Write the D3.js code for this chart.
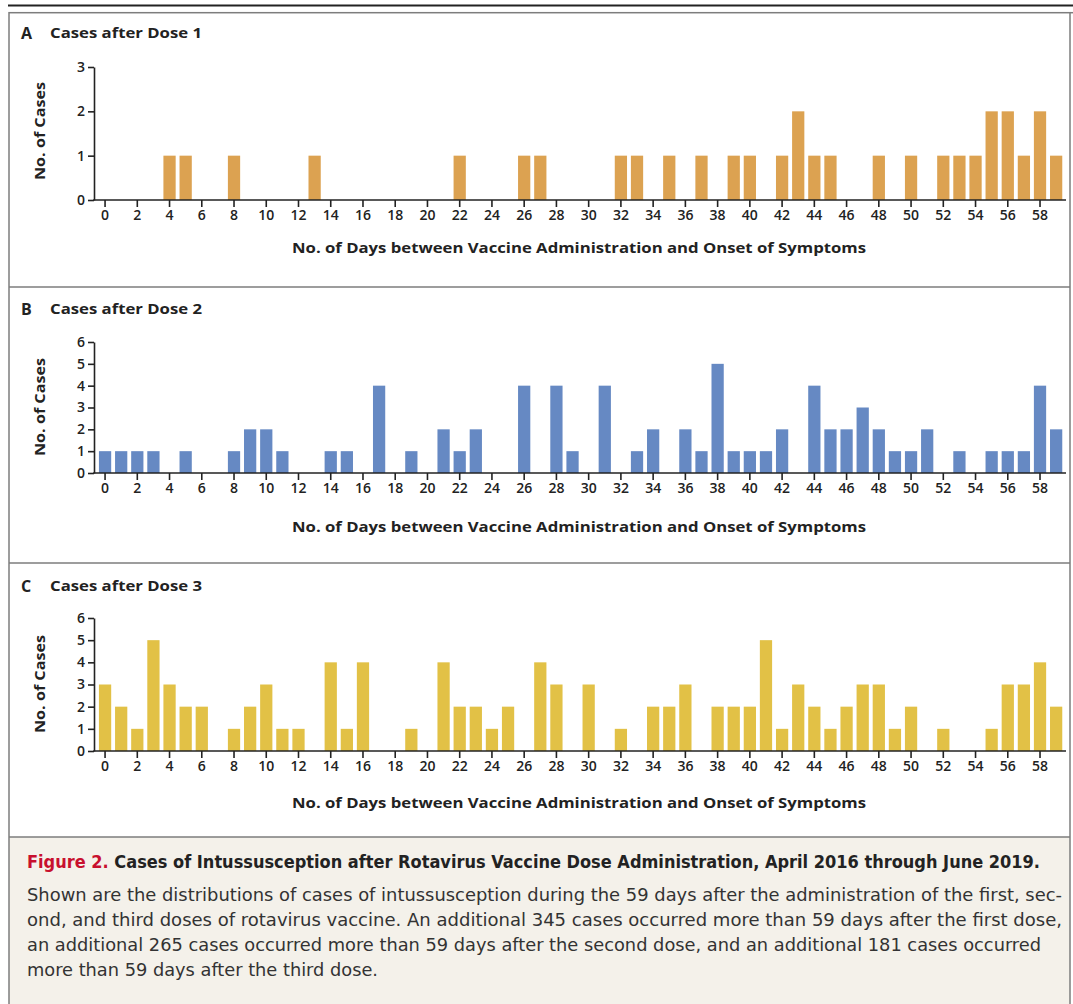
<!DOCTYPE html>
<html lang="en">
  <head>
    <meta charset="utf-8" />
    <title>Cases of Intussusception after Rotavirus Vaccine</title>
    <style>
      body {
        margin: 0;
        background: #fff;
      }
      svg {
        display: block;
      }
      .tick line,
      .domain {
        stroke: #222;
        stroke-width: 1.6;
      }
    </style>
  </head>

  <body>
    <div id="figure"></div>

    <script src="https://cdn.jsdelivr.net/npm/d3@7/dist/d3.min.js"></script>
    <script type="text/javascript">
      // Data
      const days = [
        0, 1, 2, 3, 4, 5, 6, 7, 8, 9, 10, 11, 12, 13, 14, 15, 16, 17, 18, 19, 20, 21, 22, 23, 24, 25, 26, 27, 28, 29,
        30, 31, 32, 33, 34, 35, 36, 37, 38, 39, 40, 41, 42, 43, 44, 45, 46, 47, 48, 49, 50, 51, 52, 53, 54, 55, 56, 57,
        58, 59,
      ]
      const dose1Cases = [
        0, 0, 0, 0, 1, 1, 0, 0, 1, 0,
        0, 0, 0, 1, 0, 0, 0, 0, 0, 0,
        0, 0, 1, 0, 0, 0, 1, 1, 0, 0,
        0, 0, 1, 1, 0, 1, 0, 1, 0, 1,
        1, 0, 1, 2, 1, 1, 0, 0, 1, 0,
        1, 0, 1, 1, 1, 2, 2, 1, 2, 1,
      ]
      const dose2Cases = [
        1, 1, 1, 1, 0, 1, 0, 0, 1, 2,
        2, 1, 0, 0, 1, 1, 0, 4, 0, 1,
        0, 2, 1, 2, 0, 0, 4, 0, 4, 1,
        0, 4, 0, 1, 2, 0, 2, 1, 5, 1,
        1, 1, 2, 0, 4, 2, 2, 3, 2, 1,
        1, 2, 0, 1, 0, 1, 1, 1, 4, 2,
      ]
      const dose3Cases = [
        3, 2, 1, 5, 3, 2, 2, 0, 1, 2,
        3, 1, 1, 0, 4, 1, 4, 0, 0, 1,
        0, 4, 2, 2, 1, 2, 0, 4, 3, 0,
        3, 0, 1, 0, 2, 2, 3, 0, 2, 2,
        2, 5, 1, 3, 2, 1, 2, 3, 3, 1,
        2, 0, 1, 0, 0, 1, 3, 3, 4, 2,
      ]
      const xTickLabels = [
        0, 2, 4, 6, 8, 10, 12, 14, 16, 18, 20, 22, 24, 26, 28, 30, 32, 34, 36, 38, 40, 42, 44, 46, 48, 50, 52, 54, 56,
        58,
      ]
      const yTicksDose1 = [0, 1, 2, 3]
      const yTicksDose23 = [0, 1, 2, 3, 4, 5, 6]

      const panelLetters = ['A', 'B', 'C']
      const panelTitles = ['Cases after Dose 1', 'Cases after Dose 2', 'Cases after Dose 3']
      const yTitle = 'No. of Cases'
      const xTitle = 'No. of Days between Vaccine Administration and Onset of Symptoms'

      const captionHead = 'Figure 2.'
      const captionTitle = ' Cases of Intussusception after Rotavirus Vaccine Dose Administration, April 2016 through June 2019.'
      const captionLines = [
        'Shown are the distributions of cases of intussusception during the 59 days after the administration of the first, sec-',
        'ond, and third doses of rotavirus vaccine. An additional 345 cases occurred more than 59 days after the first dose,',
        'an additional 265 cases occurred more than 59 days after the second dose, and an additional 181 cases occurred',
        'more than 59 days after the third dose.',
      ]

      // Layout
      const W = 1073,
        H = 1004
      const boxLeft = 9,
        boxRight = 1070
      const axisX = 94
      const chartFont = 'Open Sans, sans-serif'

      const panels = [
        { values: dose1Cases, yTicks: yTicksDose1, color: '#dca251', base: 200, top: 67, titleY: 33, yTitleY: 131, xTitleY: 248 },
        { values: dose2Cases, yTicks: yTicksDose23, color: '#6689c3', base: 473, top: 342, titleY: 309, yTitleY: 407, xTitleY: 527 },
        { values: dose3Cases, yTicks: yTicksDose23, color: '#e2c146', base: 751, top: 618, titleY: 586, yTitleY: 684, xTitleY: 803 },
      ]

      const svg = d3.select('#figure').append('svg').attr('width', W).attr('height', H)

      // Frame
      svg.append('rect').attr('x', 0).attr('y', 0).attr('width', W).attr('height', H).attr('fill', '#fff')
      svg
        .append('rect')
        .attr('x', boxLeft)
        .attr('y', 837)
        .attr('width', boxRight - boxLeft)
        .attr('height', H - 837 + 10)
        .attr('fill', '#f4f1ea')
      svg
        .append('line')
        .attr('x1', 8)
        .attr('x2', W)
        .attr('y1', 5.5)
        .attr('y2', 5.5)
        .attr('stroke', '#222')
        .attr('stroke-width', 1.8)
      svg
        .append('rect')
        .attr('x', boxLeft)
        .attr('y', 12.7)
        .attr('width', boxRight - boxLeft)
        .attr('height', H)
        .attr('fill', 'none')
        .attr('stroke', '#7d7d7d')
        .attr('stroke-width', 1.5)
      svg
        .append('line')
        .attr('x1', boxRight)
        .attr('x2', W)
        .attr('y1', 12.7)
        .attr('y2', 12.7)
        .attr('stroke', '#7d7d7d')
        .attr('stroke-width', 1.5)
      ;[287, 563, 837].forEach(function (yy) {
        svg
          .append('line')
          .attr('x1', boxLeft)
          .attr('x2', boxRight)
          .attr('y1', yy)
          .attr('y2', yy)
          .attr('stroke', '#7d7d7d')
          .attr('stroke-width', 1.5)
      })

      // Shared x scale
      const x = d3.scaleBand().domain(days).range([97, 1064.2]).paddingInner(0.24).paddingOuter(0.12)

      function styleTicks(sel) {
        sel
          .attr('font-family', chartFont)
          .attr('font-size', 14)
          .selectAll('text')
          .attr('font-weight', 600)
          .attr('fill', '#222')
      }

      panels.forEach(function (p, i) {
        const g = svg.append('g')

        // Panel heading
        g.append('text')
          .attr('x', 21)
          .attr('y', p.titleY)
          .attr('dy', '0.35em')
          .attr('font-family', chartFont)
          .attr('font-weight', 700)
          .attr('font-size', 16)
          .attr('fill', '#222')
          .text(panelLetters[i])
        g.append('text')
          .attr('x', 50)
          .attr('y', p.titleY)
          .attr('dy', '0.35em')
          .attr('font-family', chartFont)
          .attr('font-weight', 700)
          .attr('font-size', 14)
          .attr('fill', '#222')
          .attr('textLength', 152)
          .attr('lengthAdjust', 'spacingAndGlyphs')
          .text(panelTitles[i])

        const y = d3
          .scaleLinear()
          .domain([0, d3.max(p.yTicks)])
          .range([p.base, p.top])

        // Bars
        g.selectAll('rect.bar')
          .data(days.filter((d) => p.values[d] > 0))
          .enter()
          .append('rect')
          .attr('class', 'bar')
          .attr('x', (d) => x(d))
          .attr('y', (d) => y(p.values[d]))
          .attr('width', x.bandwidth())
          .attr('height', (d) => y(0) - y(p.values[d]))
          .attr('fill', p.color)

        // Y axis
        g.append('g')
          .attr('transform', 'translate(' + axisX + ',0)')
          .call(
            d3.axisLeft(y).tickValues(p.yTicks).tickFormat(d3.format('d')).tickSize(6).tickSizeOuter(0).tickPadding(3)
          )
          .call(styleTicks)

        // X axis
        const xAxis = g
          .append('g')
          .attr('transform', 'translate(0,' + p.base + ')')
          .call(d3.axisBottom(x).tickValues(xTickLabels).tickSize(7).tickSizeOuter(0).tickPadding(3))
          .call(styleTicks)
        xAxis.select('.domain').attr('d', 'M' + (axisX - 0.8) + ',0H1066')

        // Axis titles
        g.append('text')
          .attr('transform', 'translate(40,' + p.yTitleY + ') rotate(-90)')
          .attr('text-anchor', 'middle')
          .attr('dy', '0.35em')
          .attr('font-family', chartFont)
          .attr('font-weight', 700)
          .attr('font-size', 14)
          .attr('fill', '#222')
          .attr('textLength', 98)
          .attr('lengthAdjust', 'spacingAndGlyphs')
          .text(yTitle)
        g.append('text')
          .attr('x', 579)
          .attr('y', p.xTitleY)
          .attr('text-anchor', 'middle')
          .attr('dy', '0.35em')
          .attr('font-family', chartFont)
          .attr('font-weight', 700)
          .attr('font-size', 15)
          .attr('fill', '#222')
          .attr('textLength', 574)
          .attr('lengthAdjust', 'spacingAndGlyphs')
          .text(xTitle)
      })

      // Caption
      const capFont = "'Liberation Sans Narrow', 'DejaVu Sans Condensed', 'Noto Sans', sans-serif"
      const head = svg
        .append('text')
        .attr('x', 27)
        .attr('y', 862)
        .attr('dy', '0.35em')
        .attr('font-family', capFont)
        .attr('font-weight', 700)
        .attr('font-size', 18.5)
        .attr('textLength', 1040 - 27)
        .attr('lengthAdjust', 'spacingAndGlyphs')
      head.append('tspan').attr('fill', '#c8102e').text(captionHead)
      head.append('tspan').attr('fill', '#222').text(captionTitle)

      const lineEnds = [1062, 1062, 1041, 378]
      captionLines.forEach(function (t, i) {
        svg
          .append('text')
          .attr('x', 27)
          .attr('y', 895 + i * 25)
          .attr('dy', '0.35em')
          .attr('font-family', capFont)
          .attr('font-size', 18)
          .attr('fill', '#333')
          .attr('textLength', lineEnds[i] - 27)
          .attr('lengthAdjust', 'spacingAndGlyphs')
          .text(t)
      })
    </script>
  </body>
</html>
